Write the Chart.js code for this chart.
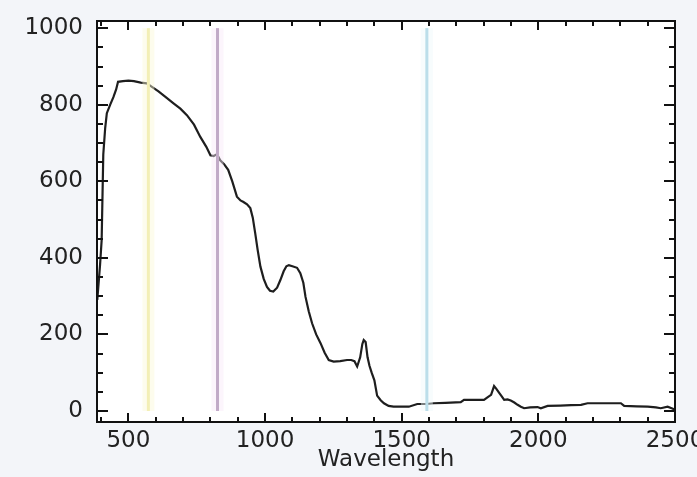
<!DOCTYPE html>
<html>
<head>
<meta charset="utf-8">
<script src="https://cdn.jsdelivr.net/npm/chart.js@4.4.0/dist/chart.umd.min.js"></script>
<style>
  html, body { margin: 0; padding: 0; background: #f3f5f9; }
  #wrap { width: 697px; height: 477px; overflow: hidden; position: relative; }
  #box { width: 720px; height: 477px; }
</style>
</head>
<body>
<div id="wrap"><div id="box"><canvas id="specChart"></canvas></div></div>
<script>
// spectrum
const wavelengths = [386, 396, 402, 408, 415, 421, 433, 445, 455, 462, 480, 500, 520, 545, 567, 590, 610, 640, 665, 690,
    714, 740, 763, 785, 800, 812, 824, 836, 850, 865, 880, 897, 910, 921, 934, 946, 955, 964, 973, 983,
    995, 1007, 1018, 1030, 1044, 1056, 1068, 1078, 1087, 1100, 1117, 1129, 1140, 1148, 1160, 1172, 1187, 1203, 1218, 1233,
    1251, 1275, 1300, 1315, 1327, 1337, 1348, 1356, 1361, 1368, 1375, 1382, 1390, 1400, 1410, 1423, 1435, 1452, 1470, 1490,
    1526, 1557, 1590, 1617, 1660, 1716, 1728, 1770, 1801, 1815, 1827, 1838, 1847, 1856, 1866, 1875, 1887, 1899, 1912, 1924,
    1936, 1948, 1970, 1997, 2009, 2034, 2080, 2120, 2156, 2180, 2240, 2302, 2314, 2360, 2400, 2430, 2448, 2473, 2490, 2500];
const reflectance = [290, 380, 446, 670, 740, 778, 800, 820, 840, 860, 862, 863, 862, 858, 856, 845, 835, 818, 804, 790,
    773, 748, 716, 690, 668, 666, 671, 655, 645, 630, 600, 560, 550, 546, 540, 530, 505, 464, 420, 377,
    345, 324, 314, 312, 322, 342, 365, 378, 381, 378, 374, 360, 335, 298, 260, 229, 200, 177, 152, 133,
    129, 130, 133, 133, 130, 116, 140, 175, 185, 180, 140, 118, 100, 80, 40, 28, 20, 13, 11, 11,
    11, 18, 18, 20, 21, 23, 29, 29, 29, 36, 42, 65, 57, 48, 38, 29, 30, 27, 22, 16,
    11, 7, 9, 10, 7, 13, 14, 15, 16, 20, 20, 20, 13, 12, 11, 9, 7, 11, 6, 3];

// band markers (vertical lines)
const bandNames = ['yellow', 'purple', 'cyan'];
const bandWavelengths = [573, 826, 1592];
const bandColors = ['#ede89c', '#94779f', '#92c9dc'];
const bandGlow = ['rgba(250,248,215,0.45)', 'rgba(248,232,248,0.45)', 'rgba(238,248,250,0.45)'];
const bandTop = 1000;

const xTicks = [500, 1000, 1500, 2000, 2500];
const yTicks = [0, 200, 400, 600, 800, 1000];
const xMin = 385, xMax = 2500;
const yMin = -29, yMax = 1019;

const spectrum = wavelengths.map((w, i) => ({ x: w, y: reflectance[i] }));

const datasets = [];
bandWavelengths.forEach((w, i) => {
    datasets.push({
        label: bandNames[i] + ' glow',
        data: [{ x: w, y: 0 }, { x: w, y: bandTop }],
        borderColor: bandGlow[i],
        borderWidth: 12,
        pointRadius: 0,
        showLine: true
    });
});
bandWavelengths.forEach((w, i) => {
    datasets.push({
        label: bandNames[i],
        data: [{ x: w, y: 0 }, { x: w, y: bandTop }],
        borderColor: bandColors[i],
        borderWidth: 3,
        pointRadius: 0,
        showLine: true
    });
});
datasets.push({
    label: 'spectrum',
    data: spectrum,
    borderColor: '#1e1e1e',
    borderWidth: 2.2,
    pointRadius: 0,
    tension: 0,
    showLine: true
});

// white plot area, frame and inward ticks
const framePlugin = {
    id: 'frame',
    beforeDatasetsDraw(chart) {
        const a = chart.chartArea;
        const ctx = chart.ctx;
        ctx.save();
        ctx.fillStyle = '#ffffff';
        ctx.fillRect(a.left, a.top, a.right - a.left, a.bottom - a.top);
        ctx.restore();
    },
    afterDraw(chart) {
        const a = chart.chartArea;
        const ctx = chart.ctx;
        const xs = chart.scales.x, ys = chart.scales.y;
        ctx.save();
        ctx.strokeStyle = '#111';
        ctx.lineWidth = 2;
        ctx.strokeRect(a.left, a.top, a.right - a.left, a.bottom - a.top);
        ctx.beginPath();
        for (let v = 400; v <= xMax; v += 100) {
            const px = Math.round(xs.getPixelForValue(v));
            const len = v % 500 === 0 ? 9 : 5;
            ctx.moveTo(px, a.bottom); ctx.lineTo(px, a.bottom - len);
            ctx.moveTo(px, a.top); ctx.lineTo(px, a.top + len);
        }
        for (let v = 0; v <= 1000; v += 50) {
            const py = Math.round(ys.getPixelForValue(v));
            const len = v % 200 === 0 ? 11 : 6;
            ctx.moveTo(a.left, py); ctx.lineTo(a.left + len, py);
            ctx.moveTo(a.right, py); ctx.lineTo(a.right - len, py);
        }
        ctx.stroke();
        ctx.restore();
    }
};

const tickFont = { family: 'DejaVu Sans', size: 23 };
const plainLabel = v => String(v);

new Chart(document.getElementById('specChart'), {
    type: 'scatter',
    data: { datasets: datasets },
    options: {
        responsive: true,
        maintainAspectRatio: false,
        animation: false,
        layout: { padding: { top: 21, right: 45, left: 0, bottom: 0 } },
        plugins: {
            legend: { display: false },
            tooltip: { enabled: false }
        },
        scales: {
            x: {
                type: 'linear',
                min: xMin,
                max: xMax,
                afterBuildTicks: s => { s.ticks = xTicks.map(v => ({ value: v })); },
                afterFit: s => { s.height = 55; },
                grid: { display: false, drawTicks: false },
                border: { display: false },
                ticks: { color: '#222', font: tickFont, padding: 5, maxRotation: 0, autoSkip: false, callback: plainLabel },
                title: {
                    display: true,
                    text: 'Wavelength',
                    color: '#222',
                    font: { family: 'DejaVu Sans', size: 23 },
                    padding: { top: 0, bottom: 3 }
                }
            },
            y: {
                type: 'linear',
                min: yMin,
                max: yMax,
                afterBuildTicks: s => { s.ticks = yTicks.map(v => ({ value: v })); },
                afterFit: s => { s.width = 97; s.paddingTop = 0; s.paddingBottom = 0; },
                grid: { display: false, drawTicks: false },
                border: { display: false },
                ticks: { color: '#222', font: tickFont, padding: 14, autoSkip: false, callback: plainLabel }
            }
        }
    },
    plugins: [framePlugin]
});
</script>
</body>
</html>
